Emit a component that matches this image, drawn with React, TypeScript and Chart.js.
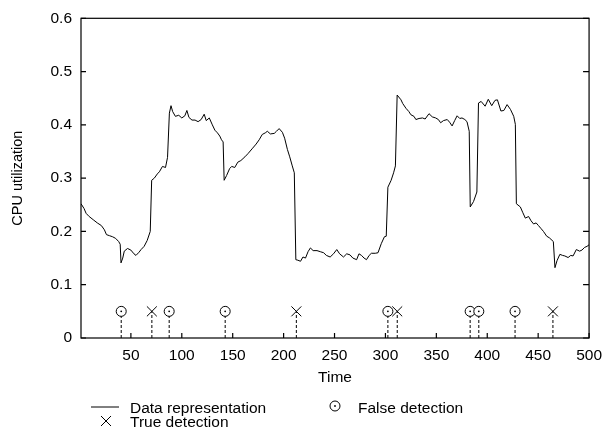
import React, { useEffect, useRef } from "react";
import { Chart, registerables } from "chart.js";

Chart.register(...registerables);

// ---- data ----
const TIME = [
  1, 4, 6, 9, 13, 17, 21, 24, 26, 29, 32, 35, 38, 39.5, 40.3, 42, 43.5, 46.7, 50, 53, 55, 58, 60, 63, 66, 69,
  70.4, 73, 76, 78, 81, 84, 86, 87.8, 89.4, 91, 93.7, 97, 100, 103, 105, 107, 110, 113, 116, 119, 122, 124, 127,
  130, 132.5, 135, 137.3, 139, 140.6, 141.6, 144, 147, 149, 152, 155, 158, 162, 165, 169, 173, 176, 179, 182,
  184, 187, 190.8, 193, 195.6, 198.8, 201, 203.7, 206, 208.5, 210.5, 212, 214, 216.6, 219, 221.5, 224, 226.3,
  229, 232.8, 236, 239.3, 242, 245.7, 249, 252.2, 255, 258.8, 262, 265.2, 268, 271.7, 274, 276.5, 279, 281.4,
  284, 286.2, 290, 292.7, 295.9, 299, 300.8, 302.4, 305.6, 308, 309.8, 311.5, 315.3, 317, 320.2, 323, 325, 328,
  329.9, 333, 336.4, 339, 342.8, 346, 349.3, 352, 354.2, 357, 360.7, 363, 365.5, 368, 370.4, 373, 375.2, 378,
  380.1, 382.3, 383.3, 386.5, 389.8, 391.4, 394, 397.9, 401, 404.4, 407.6, 410, 413.4, 416.3, 419.5, 422.8,
  426, 427.6, 428.6, 432.5, 435, 437.4, 440.6, 443, 445.5, 448, 450.3, 453, 455.2, 458.4, 461, 464.9, 466.5,
  468.5, 471.3, 474, 476.2, 479.4, 482, 484.3, 487.5, 490.7, 493, 495.6, 498, 500,
];
const CPU = [
  0.252, 0.243, 0.234, 0.228, 0.222, 0.216, 0.211, 0.203, 0.194, 0.192, 0.19, 0.187, 0.181, 0.176, 0.141, 0.15,
  0.163, 0.168, 0.165, 0.158, 0.155, 0.161, 0.166, 0.172, 0.183, 0.2,
  0.296, 0.3, 0.308, 0.312, 0.322, 0.32, 0.339, 0.422, 0.436, 0.425, 0.416, 0.418, 0.413, 0.417, 0.427, 0.414,
  0.409, 0.409, 0.406, 0.41, 0.42, 0.408, 0.413,
  0.4, 0.39, 0.385, 0.379, 0.372, 0.368, 0.296, 0.305, 0.318, 0.322, 0.32, 0.33, 0.333, 0.34, 0.346, 0.355,
  0.364, 0.372, 0.382, 0.385,
  0.388, 0.383, 0.384, 0.388, 0.393, 0.386, 0.375, 0.354, 0.34, 0.323, 0.31, 0.147, 0.146, 0.144, 0.152, 0.15,
  0.162, 0.169,
  0.164, 0.164, 0.162, 0.16, 0.155, 0.152, 0.158, 0.166, 0.158, 0.152, 0.158, 0.156, 0.15, 0.147, 0.158, 0.155,
  0.15, 0.147,
  0.155, 0.159, 0.159, 0.16, 0.177, 0.19, 0.191, 0.283, 0.296, 0.31, 0.323, 0.456, 0.447, 0.44, 0.431, 0.425,
  0.419, 0.416,
  0.41, 0.412, 0.413, 0.411, 0.421, 0.415, 0.413, 0.41, 0.404, 0.408, 0.41, 0.405, 0.398, 0.408, 0.417, 0.412,
  0.413, 0.41,
  0.406, 0.388, 0.246, 0.256, 0.274, 0.441, 0.444, 0.435, 0.448, 0.436, 0.446, 0.447, 0.426, 0.427, 0.438,
  0.429,
  0.416, 0.401, 0.252, 0.246, 0.235, 0.225, 0.228, 0.22, 0.214, 0.216, 0.211, 0.205, 0.2, 0.191, 0.188, 0.181,
  0.132,
  0.145, 0.157, 0.155, 0.154, 0.151, 0.155, 0.154, 0.166, 0.163, 0.165, 0.17, 0.172, 0.175,
];
const FALSE_DETECTIONS = [40.5, 87.6, 142.6, 302.4, 383.2, 391.7, 427.3];
const TRUE_DETECTIONS = [70.6, 212.5, 311.6, 464.5];
const DETECTION_LEVEL = 0.05;

const X_TICKS = [50, 100, 150, 200, 250, 300, 350, 400, 450, 500];
const Y_TICKS = [0, 0.1, 0.2, 0.3, 0.4, 0.5, 0.6];
const Y_TICK_LABELS = ["0", "0.1", "0.2", "0.3", "0.4", "0.5", "0.6"];

const FONT_FAMILY = "'Liberation Sans', Arial, Helvetica, sans-serif";
const FONT_SIZE = 15.5;

const framePlugin = {
  id: "frameTicks",
  afterDatasetsDraw(chart: any) {
    const { ctx, chartArea } = chart;
    const { left, right, top, bottom } = chartArea;
    const xs = chart.scales.x;
    const ys = chart.scales.y;
    ctx.save();
    ctx.strokeStyle = "#000";
    ctx.lineWidth = 1.2;
    ctx.strokeRect(left, top, right - left, bottom - top);
    ctx.beginPath();
    for (const t of xs.ticks) {
      const px = xs.getPixelForValue(t.value);
      ctx.moveTo(px, bottom);
      ctx.lineTo(px, bottom - 5);
    }
    for (const t of ys.ticks) {
      const py = ys.getPixelForValue(t.value);
      ctx.moveTo(left, py);
      ctx.lineTo(left + 5, py);
      ctx.moveTo(right, py);
      ctx.lineTo(right - 6, py);
    }
    ctx.stroke();
    ctx.restore();
  },
};

const legendPlugin = {
  id: "customLegend",
  afterDraw(chart: any) {
    const { ctx } = chart;
    ctx.save();
    ctx.fillStyle = "#000";
    ctx.strokeStyle = "#000";
    ctx.lineWidth = 1;
    ctx.font = `${FONT_SIZE}px ${FONT_FAMILY}`;
    ctx.textBaseline = "alphabetic";
    ctx.textAlign = "left";
    // row 1: line sample
    ctx.beginPath();
    ctx.moveTo(91, 407);
    ctx.lineTo(119, 407);
    ctx.stroke();
    ctx.fillText("Data representation", 130, 413);
    // false detection marker
    ctx.beginPath();
    ctx.arc(335, 406, 5, 0, Math.PI * 2);
    ctx.stroke();
    ctx.beginPath();
    ctx.arc(335, 406, 0.9, 0, Math.PI * 2);
    ctx.fill();
    ctx.fillText("False detection", 358, 413);
    // row 2: true detection marker
    ctx.beginPath();
    ctx.moveTo(101, 416);
    ctx.lineTo(111, 426);
    ctx.moveTo(111, 416);
    ctx.lineTo(101, 426);
    ctx.stroke();
    ctx.fillText("True detection", 130, 427);
    ctx.restore();
  },
};

export default function App() {
  const ref = useRef<HTMLCanvasElement | null>(null);

  useEffect(() => {
    if (!ref.current) return;
    const font = { family: FONT_FAMILY, size: FONT_SIZE };
    const stems: any[] = [];
    [...FALSE_DETECTIONS, ...TRUE_DETECTIONS].forEach((t) => {
      stems.push({ x: t, y: 0 }, { x: t, y: DETECTION_LEVEL }, { x: t, y: null });
    });
    const chart = new Chart(ref.current, {
      type: "line",
      data: {
        datasets: [
          {
            label: "Data representation",
            data: TIME.map((t, i) => ({ x: t, y: CPU[i] })),
            borderColor: "#000",
            borderWidth: 1,
            pointRadius: 0,
            tension: 0,
            fill: false,
            order: 4,
          },
          {
            label: "stems",
            data: stems,
            borderColor: "#000",
            borderWidth: 1,
            borderDash: [3, 2],
            pointRadius: 0,
            spanGaps: false,
            fill: false,
            order: 3,
          },
          {
            label: "False detection",
            data: FALSE_DETECTIONS.map((t) => ({ x: t, y: DETECTION_LEVEL })),
            showLine: false,
            pointStyle: "circle",
            pointRadius: 5,
            pointBorderWidth: 1,
            pointBackgroundColor: "#fff",
            pointBorderColor: "#000",
            order: 2,
          },
          {
            label: "False detection dot",
            data: FALSE_DETECTIONS.map((t) => ({ x: t, y: DETECTION_LEVEL })),
            showLine: false,
            pointStyle: "circle",
            pointRadius: 0.9,
            pointBorderWidth: 0,
            pointBackgroundColor: "#000",
            pointBorderColor: "#000",
            order: 1,
          },
          {
            label: "True detection",
            data: TRUE_DETECTIONS.map((t) => ({ x: t, y: DETECTION_LEVEL })),
            showLine: false,
            pointStyle: "crossRot",
            pointRadius: 7,
            pointBorderWidth: 1,
            pointBorderColor: "#000",
            order: 1,
          },
        ],
      },
      options: {
        animation: false,
        responsive: false,
        devicePixelRatio: 1,
        events: [],
        layout: { padding: { top: 13.5, right: 15, left: 0, bottom: 0 } },
        plugins: { legend: { display: false }, tooltip: { enabled: false } },
        scales: {
          x: {
            type: "linear",
            min: 1,
            max: 500,
            afterBuildTicks: (s: any) => {
              s.ticks = X_TICKS.map((v) => ({ value: v }));
            },
            afterFit: (s: any) => {
              s.height = 96;
            },
            grid: { display: false, drawTicks: false },
            border: { display: false },
            ticks: { padding: 8, font, color: "#000", maxRotation: 0, autoSkip: false, callback: (v: any) => String(v) },
            title: { display: true, text: "Time", font, color: "#000", padding: { top: 0, bottom: 47 } },
          },
          y: {
            type: "linear",
            min: 0,
            max: 0.6,
            afterBuildTicks: (s: any) => {
              s.ticks = Y_TICKS.map((v) => ({ value: v }));
            },
            afterFit: (s: any) => {
              s.width = 81;
            },
            grid: { display: false, drawTicks: false },
            border: { display: false },
            ticks: {
              padding: 9,
              font,
              color: "#000",
              autoSkip: false,
              callback: (_v: any, i: number) => Y_TICK_LABELS[i],
            },
            title: {
              display: true,
              text: "CPU utilization",
              font: { family: FONT_FAMILY, size: 14.5 },
              color: "#000",
              padding: { top: 9, bottom: 0 },
            },
          },
        },
      },
      plugins: [framePlugin, legendPlugin],
    });
    return () => chart.destroy();
  }, []);

  return (
    <div style={{ position: "fixed", left: 0, top: 0, width: 610, height: 434, background: "#fff" }}>
      <canvas ref={ref} width={610} height={434} style={{ display: "block" }} />
    </div>
  );
}
